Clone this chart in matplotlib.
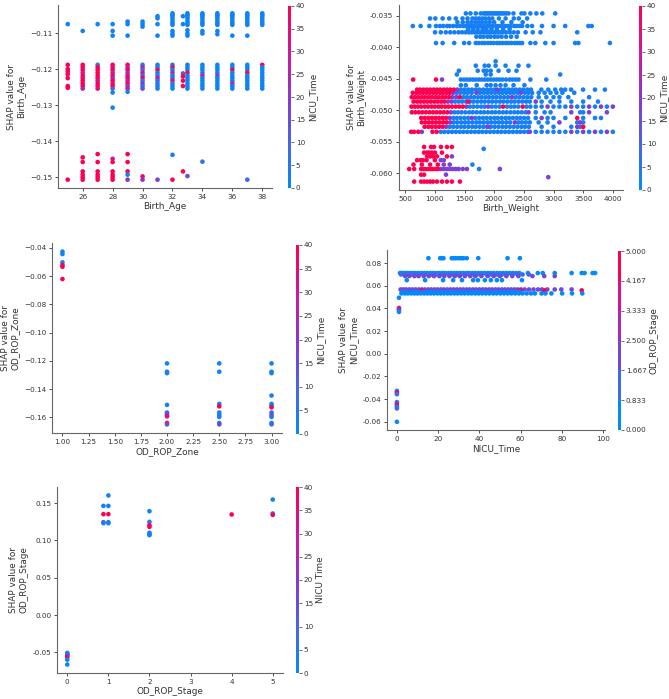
import numpy as np
import matplotlib
matplotlib.use("Agg")
import matplotlib.pyplot as plt
from matplotlib.colors import LinearSegmentedColormap, BoundaryNorm, Normalize

TEXT = "#333333"
W, H = 669, 699
DOT = 11

# shap-like red_blue colour map
RED_BLUE = LinearSegmentedColormap.from_list(
    "red_blue",
    [(0.0, "#008bfb"), (0.25, "#4a63e8"), (0.5, "#8b36cf"), (0.75, "#d4159b"), (1.0, "#ff0051")],
)

# ---------------- panel 1: Birth_Age (colour = NICU_Time) ----------------
age_cols = [25, 26, 27, 28, 29, 30, 31, 32, 32.7, 33, 34, 35, 36, 37, 38]
age_stack = [-0.1045, -0.1049, -0.1053, -0.1059, -0.1066, -0.1072, -0.1077]
age_band = [-0.1188, -0.1195, -0.1202, -0.1210, -0.1218, -0.1225, -0.1232, -0.1240, -0.1247, -0.1254]
age_upper = [
    [-0.1075],
    [-0.1094],
    [-0.1075],
    [-0.1075, -0.1094, -0.1107],
    [-0.1068, -0.1075, -0.1107],
    [-0.1068, -0.1075, -0.1082],
    [-0.1053, -0.1059, -0.1075, -0.1107],
    age_stack + [-0.1094, -0.1101, -0.1107],
    [-0.1053, -0.1075],
    age_stack + [-0.1092, -0.1101, -0.1107],
    age_stack + [-0.1094, -0.1101],
    age_stack + [-0.1094, -0.1103],
    age_stack + [-0.1107],
    age_stack + [-0.1107],
    age_stack,
]
age_mid = [
    [-0.1188, -0.1200, -0.1207, -0.1214, -0.1225, -0.1247, -0.1252],
    age_band, age_band, age_band + [-0.1265], age_band + [-0.1263],
    age_band, age_band, age_band,
    [-0.1212, -0.1220, -0.1232, -0.1247],
    age_band, age_band, age_band, age_band, age_band, age_band,
]
age_mid_c = [
    [40, 40, 40, 38, 40, 40, 40],
    [40, 38, 40, 30, 40, 35, 40, 38, 40, 25],
    [8, 40, 40, 38, 40, 40, 32, 40, 38, 35],
    [40, 35, 40, 28, 40, 22, 40, 35, 40, 12, 3],
    [38, 30, 40, 20, 35, 40, 25, 40, 18, 30, 3],
    [5, 25, 8, 30, 12, 40, 3, 20, 6, 15],
    [3, 2, 40, 5, 2, 30, 3, 10, 2, 4],
    [2, 40, 3, 25, 2, 5, 35, 2, 3, 1],
    [12, 40, 40, 40],
    [2, 3, 1, 40, 2, 2, 4, 2, 1, 2],
    [2, 1, 3, 2, 30, 2, 1, 2, 3, 2],
    [1, 2, 2, 3, 20, 1, 2, 2, 1, 2],
    [2, 1, 40, 2, 3, 1, 2, 25, 2, 1],
    [1, 2, 2, 40, 1, 2, 2, 1, 3, 2],
    [40, 2, 1, 2, 3, 1, 2, 2, 1, 2],
]
age_low = [
    [-0.1507],
    [-0.1445, -0.1458, -0.1484, -0.1493, -0.1500, -0.1507],
    [-0.1436, -0.1458, -0.1484, -0.1493, -0.1500, -0.1507],
    [-0.1307, -0.1449, -0.1458, -0.1484, -0.1493, -0.1500, -0.1507],
    [-0.1436, -0.1458, -0.1484, -0.1493, -0.1507],
    [-0.1498, -0.1507],
    [-0.1507],
    [-0.1438, -0.1507],
    [-0.1484],
    [-0.1497],
    [-0.1457],
    [], [],
    [-0.1507],
    [],
]
age_low_c = [
    [40], [40, 40, 40, 40, 40, 40], [40, 40, 40, 40, 40, 40],
    [2, 30, 40, 40, 40, 40, 40], [40, 40, 40, 3, 20], [40, 20], [18],
    [3, 40], [40], [15], [6], [], [], [8], [],
]

# ---------------- panel 2: Birth_Weight (colour = NICU_Time) ----------------
bw_y = [
    -0.0346, -0.0354, -0.0360, -0.0366, -0.0371, -0.0376, -0.0383, -0.0393,
    -0.0422, -0.0429, -0.0437, -0.0443, -0.0451, -0.0460,
    -0.0467, -0.0472, -0.0479, -0.0486, -0.0494, -0.0503, -0.0512, -0.0519, -0.0526, -0.0534,
    -0.0558, -0.0561, -0.0567, -0.0573, -0.0579, -0.0586, -0.0593, -0.0602, -0.0606, -0.0613,
]
bw_short_nicu = [  # blue points, short NICU stay
    [1522, 1600, 1690, 1773, 1823, 1850, 1880, 1905, 1935, 1960, 1990, 2020, 2050, 2075, 2105,
     2135, 2165, 2200, 2242, 2325, 2460, 2510, 2610, 2711, 2811, 3029],
    [919, 1008, 1131, 1242, 1354, 1466, 1550, 1634, 1690, 1745, 1800, 1850, 1910, 1969, 2080,
     2192, 2331, 2415, 2555],
    [1380, 1470, 1550, 1615, 1680, 1740, 1795, 1860, 1925, 2000, 2140, 2290, 2480],
    [628, 760, 907, 1019, 1085, 1140, 1205, 1250, 1310, 1370, 1425, 1480, 1530, 1585, 1630, 1680,
     1735, 1780, 1830, 1885, 1930, 1980, 2035, 2080, 2130, 2185, 2230, 2280, 2335, 2380, 2430,
     2471, 2560, 2638, 2806, 3001, 3197, 3588, 3644],
    [1560, 1640, 1720, 1805, 1870, 1955, 2045, 2150, 2260],
    [1003, 1100, 1185, 1260, 1330, 1400, 1460, 1520, 1575, 1620, 1665, 1700, 1745, 1780, 1825,
     1860, 1905, 1940, 1985, 2020, 2065, 2100, 2145, 2200, 2265, 2330, 2400, 2530, 2650, 2780, 3400],
    [1700, 1765, 1820, 1885, 1940, 2005, 2060, 2125, 2200, 2285, 2380],
    [1019, 1131, 1326, 1494, 1578, 1690, 1740, 1795, 1840, 1895, 1940, 1990, 2045, 2090, 2140,
     2195, 2240, 2290, 2345, 2390, 2430, 2471, 2611, 2694, 2862, 3001, 3364, 3420, 3951],
    [2024],
    [1690, 1840, 1907, 2024, 2192, 2410, 2577],
    [1405, 1723, 1823, 1874, 1941, 2074, 2242, 2376],
    [1371, 1857, 1941, 3113],
    [1438, 1490, 1540, 1590, 1640, 1690, 1740, 1790, 1840, 1890, 1940, 1990, 2040, 2090, 2140,
     2200, 2260, 2310, 2359, 2410, 2610, 2878],
    [1438, 1522, 1706, 1874, 1941, 2024, 2107, 2192, 2326, 2510],
    [1440, 1500, 1565, 1625, 1690, 1750, 1815, 1880, 1940, 2000, 2110, 2175, 2240, 2300, 2365,
     2430, 2490, 2560, 2620, 2795, 2912, 3029, 3130, 3197, 3297, 3498, 3699, 3866],
    [1370, 1430, 1495, 1555, 1620, 1760, 1825, 1890, 1950, 2015, 2080, 2140, 2205, 2270, 2330,
     2395, 2520, 2580, 2640, 2750, 2850, 2950, 3050, 3150, 3350],
    [1480, 1540, 1605, 1665, 1730, 1790, 1855, 1915, 1980, 2040, 2105, 2170, 2235, 2365, 2430,
     2495, 2560, 2625, 2750, 2880, 3000, 3100, 3250, 3600],
    [1340, 1400, 1460, 1525, 1590, 1650, 1715, 1780, 1840, 1905, 1965, 2030, 2095, 2155, 2220,
     2285, 2345, 2410, 2475, 2540, 2600, 2800, 2950, 3100, 3300, 3500, 3750],
    [1590, 1650, 1715, 1780, 1840, 1960, 2025, 2090, 2215, 2280, 2340, 2405, 2545, 2610, 2700,
     2800, 3000, 3100, 3200, 3400, 3500, 3700, 3900],
    [1330, 1390, 1450, 1515, 1580, 1640, 1705, 1770, 1830, 1895, 1960, 2020, 2085, 2150, 2210,
     2275, 2340, 2400, 2465, 2530, 2700, 2850, 2950, 3450, 3500],
    [1310, 1370, 1430, 1495, 1560, 1680, 1745, 1810, 1870, 1935, 2000, 2060, 2125, 2190, 2250,
     2315, 2380, 2440, 2505, 2570, 2700, 2900, 3000, 3200, 3500, 3700, 3800],
    [1320, 1380, 1445, 1510, 1570, 1635, 1700, 1760, 1825, 1890, 1950, 2015, 2080, 2140, 2205,
     2270, 2410, 2470, 2535, 2600, 2750, 2900, 3400, 3500],
    [1250, 1310, 1375, 1440, 1500, 1565, 1630, 1690, 1755, 1820, 1880, 1945, 2010, 2075, 2140,
     2200, 2265, 2330, 2395, 2460, 2520, 2585, 2800, 3000, 3300, 3450],
    [1100, 1160, 1225, 1290, 1355, 1420, 1480, 1545, 1610, 1675, 1740, 1800, 1865, 1930, 1995,
     2060, 2120, 2185, 2250, 2315, 2380, 2440, 2505, 2570, 2700, 2800, 2900, 3000, 3100, 3200,
     3400, 3600, 3800, 4000],
    [], [1823], [], [], [], [1633], [1745], [], [], [],
]
bw_mid_nicu = [  # purple points
    [], [], [], [], [], [], [], [],
    [], [], [], [], [1120], [],
    [1380, 2050], [1310, 1700, 2450], [1295, 1360, 2300], [1220, 1280, 2700],
    [1530, 1900, 2900, 3300, 3600, 3800, 4000], [1270, 2580, 3300, 3600, 3900],
    [1250, 1620, 2800], [1260, 2350, 3100, 3450], [1190, 1900, 3400], [780, 2600, 3300, 3500, 3700, 3900],
    [], [], [], [1287], [1100, 1150], [1150, 1250],
    [1100, 1150, 1200, 1250, 1300, 1350, 1400, 1470, 1540, 2096], [1187], [2912], [],
]
bw_long_nicu = [  # red points, long NICU stay
    [], [], [], [], [], [], [], [],
    [], [], [], [], [634, 1019], [],
    [701, 750, 810, 865, 920, 980, 1035, 1090, 1150, 1205, 1260, 1320],
    [628, 690, 745, 800, 860, 915, 975, 1030, 1090, 1140, 1200, 1255],
    [610, 665, 720, 780, 835, 895, 950, 1010, 1065, 1125, 1180, 1240, 1420],
    [640, 700, 755, 815, 870, 930, 990, 1045, 1105, 1160, 1560],
    [606, 660, 715, 770, 830, 885, 945, 1000, 1060, 1115, 1175, 1230, 1290, 1350, 1410, 1470, 2150, 2480],
    [611, 670, 730, 790, 850, 910, 970, 1030, 1090, 1150, 1210],
    [770, 830, 890, 950, 1010, 1070, 1130, 1190, 3400],
    [780, 840, 900, 960, 1020, 1080, 1140, 1200],
    [827, 890, 950, 1010, 1070, 1130, 3500],
    [600, 650, 720, 960, 1030],
    [818, 935, 985, 1103, 1204, 1287], [],
    [818, 870, 901, 951, 1002, 1120],
    [868, 918, 968, 1036, 1204],
    [700, 760, 800, 860, 1000],
    [640, 780, 920, 1050],
    [567, 651, 768, 810, 850, 890, 930, 970, 1010, 1050],
    [768, 818], [],
    [651, 768, 818, 868, 918, 968, 1036, 1120, 1204, 1287, 1422],
]
bw_group_nicu = [3, 18, 40]

# ---------------- panel 3: OD_ROP_Zone (colour = NICU_Time) ----------------
zone_x = [1.0] * 6 + [2.0] * 10 + [2.5] * 9 + [3.0] * 12
zone_y = [
    -0.0426, -0.0443, -0.0502, -0.0521, -0.0533, -0.0620,
    -0.1218, -0.1277, -0.1287, -0.1512, -0.1566, -0.1574, -0.1583, -0.1593, -0.1640, -0.1650,
    -0.1218, -0.1277, -0.1505, -0.1522, -0.1566, -0.1583, -0.1597, -0.1640, -0.1650,
    -0.1218, -0.1277, -0.1287, -0.1446, -0.1505, -0.1518, -0.1529, -0.1566, -0.1583, -0.1597,
    -0.1640, -0.1650,
]
zone_c = [
    2, 2, 3, 36, 40, 40,
    2, 2, 3, 3, 4, 8, 20, 35, 40, 15,
    2, 2, 3, 40, 3, 4, 3, 3, 15,
    2, 2, 3, 2, 2, 3, 40, 2, 18, 5, 3, 8,
]

# ---------------- panel 4: NICU_Time (colour = OD_ROP_Stage) ----------------
nicu_rows_y = [0.0844, 0.0713, 0.0700, 0.0686, 0.0650, 0.0568, 0.0560, 0.0548, 0.0533]
nicu_rows_stage = [0, 0, 1, 2, 0, 2, 5, 1, 0]
nicu_rows_x = [
    [15.3, 21.0, 21.8, 22.6, 26.6, 27.5, 28.2, 29.5, 30.6, 31.5, 32.3, 33.9, 39.5, 53.7, 59.7],
    [1.5, 2.2, 3.0, 4.1, 5.2, 6.5, 7.8, 9.1, 10.5, 12.0, 13.4, 14.8, 16.3, 17.7, 19.2, 20.6, 22.1,
     23.5, 25.0, 26.4, 27.9, 29.3, 30.8, 32.2, 33.7, 35.1, 36.6, 38.0, 39.5, 41.0, 42.5, 44.1,
     45.5, 47.0, 48.6, 50.1, 51.7, 53.2, 54.8, 56.3, 57.9, 59.4, 63.6, 68.4, 70.8, 76.6, 84.8,
     89.7, 91.1, 95.0, 96.2],
    [2.0, 3.5, 5.0, 7.0, 9.1, 11.0, 13.2, 15.0, 17.1, 19.0, 21.2, 23.0, 25.1, 27.0, 29.2, 31.0,
     33.1, 35.0, 37.2, 39.0, 41.1, 43.5, 46.0, 48.4, 51.0, 53.5, 56.1, 58.5, 61.0, 64.0],
    [4.0, 6.0, 8.5, 10.5, 13.0, 15.5, 18.0, 20.6, 23.0, 25.5, 28.1, 30.5, 33.0, 35.6, 38.0, 41.0,
     44.1, 47.0, 50.0, 53.1, 56.0, 59.0, 65.8, 71.5, 76.6],
    [4.8, 13.7, 22.4, 27.3, 31.6, 37.0, 39.3, 42.7, 45.6, 48.5, 51.0, 60.7],
    [1.8, 3.2, 4.5, 6.0, 7.5, 9.0, 10.6, 12.1, 13.6, 15.2, 16.7, 18.3, 19.8, 21.4, 22.9, 24.5,
     26.0, 27.6, 29.1, 30.7, 32.2, 33.8, 35.3, 36.9, 38.4, 40.0, 41.6, 43.1, 44.7, 46.2, 47.8,
     49.3, 50.9, 52.4, 54.0, 55.5, 57.1, 58.6, 60.2, 62.0, 64.1, 66.3, 68.5, 70.4, 73.0, 76.6,
     79.8, 84.8],
    [12.0, 59.7, 71.7, 89.7],
    [2.5, 4.0, 5.6, 7.2, 8.8, 10.4, 12.6, 14.3, 16.0, 17.6, 19.3, 21.0, 22.6, 24.3, 26.0, 27.7,
     29.4, 31.1, 32.8, 34.5, 36.2, 38.0, 39.7, 41.5, 43.2, 45.0, 46.8, 48.6, 50.4, 52.2, 54.0,
     55.8, 57.7, 59.5],
    [2.2, 3.8, 5.3, 6.9, 8.5, 10.0, 11.6, 13.2, 14.8, 16.4, 18.0, 19.7, 21.3, 22.9, 24.6, 26.2,
     27.9, 29.5, 31.2, 32.9, 34.6, 36.3, 38.0, 39.7, 41.4, 43.2, 44.9, 46.7, 48.4, 50.2, 52.0,
     53.8, 55.6, 57.4, 59.2, 61.0, 63.0, 65.1, 67.0, 70.2, 72.1, 75.0, 80.2, 85.0, 90.0],
]
nicu_early_x = [1, 1, 1, 1, 1, 0, 0, 0, 0, 0, 0, 0, 0, 0]
nicu_early_y = [0.0495, 0.0405, 0.0395, 0.0385, 0.0370,
                -0.0327, -0.0341, -0.0356, -0.0426, -0.0440, -0.0454, -0.0468, -0.0482, -0.0600]
nicu_early_stage = [0, 3, 5, 2, 0, 0, 5, 1, 0, 3, 5, 0, 1, 0]
stage_ticks = [0.000, 0.833, 1.667, 2.500, 3.333, 4.167, 5.000]

# ---------------- panel 5: OD_ROP_Stage (colour = NICU_Time) ----------------
stage_x = [0] * 7 + [0.88] * 4 + [1] * 5 + [2] * 7 + [4] + [5] * 3
stage_y = [
    -0.0508, -0.0522, -0.0531, -0.0544, -0.0562, -0.0598, -0.0664,
    0.1464, 0.1353, 0.1245, 0.1232,
    0.1604, 0.1464, 0.1353, 0.1245, 0.1232,
    0.1393, 0.1250, 0.1206, 0.1183, 0.1103, 0.1086, 0.1072,
    0.1349,
    0.1549, 0.1362, 0.1344,
]
stage_c = [
    3, 8, 2, 12, 38, 2, 1,
    2, 40, 15, 3,
    2, 2, 38, 3, 2,
    2, 3, 36, 40, 3, 2, 3,
    40,
    2, 3, 40,
]


def px_box(left, top, right, bottom):
    return [left / W, 1 - bottom / H, (right - left) / W, (bottom - top) / H]


def style_axis(ax, xlabel, feature):
    ax.spines["top"].set_visible(False)
    ax.spines["right"].set_visible(False)
    for side in ["left", "bottom"]:
        ax.spines[side].set_color("#666666")
        ax.spines[side].set_linewidth(0.8)
    ax.tick_params(labelsize=5.2, colors=TEXT, length=2.5, width=0.6, pad=1.5)
    ax.set_xlabel(xlabel, fontsize=6.4, color=TEXT, labelpad=2)
    ax.set_ylabel(f"SHAP value for\n{feature}", fontsize=6.4, color=TEXT, labelpad=3)


def add_colorbar(fig, sc, box, label, ticks, fmt=None):
    cax = fig.add_axes(px_box(*box))
    cb = fig.colorbar(sc, cax=cax, ticks=ticks, format=fmt)
    cb.outline.set_visible(False)
    cax.tick_params(labelsize=5.2, colors=TEXT, length=2, width=0.5, pad=1.5)
    cb.set_label(label, fontsize=6.4, color=TEXT, labelpad=2)
    return cb


fig = plt.figure(figsize=(W / 100, H / 100), dpi=100)
nicu_norm = Normalize(0, 40)
nicu_ticks = [0, 5, 10, 15, 20, 25, 30, 35, 40]

# panel 1
ax1 = fig.add_axes(px_box(58, 5, 272, 188))
xs, ys, cs = [], [], []
for i, col in enumerate(age_cols):
    for v in age_upper[i]:
        xs.append(col); ys.append(v); cs.append(2)
    for v, c in zip(age_mid[i], age_mid_c[i]):
        xs.append(col); ys.append(v); cs.append(c)
    for v, c in zip(age_low[i], age_low_c[i]):
        xs.append(col); ys.append(v); cs.append(c)
sc1 = ax1.scatter(xs, ys, c=cs, cmap=RED_BLUE, norm=nicu_norm, s=DOT, linewidths=0)
ax1.set_xticks([26, 28, 30, 32, 34, 36, 38])
ax1.set_yticks([-0.15, -0.14, -0.13, -0.12, -0.11])
style_axis(ax1, "Birth_Age", "Birth_Age")
add_colorbar(fig, sc1, (288, 6, 291, 188), "NICU_Time", nicu_ticks)

# panel 2
ax2 = fig.add_axes(px_box(399, 5, 623, 190))
for k, groups in enumerate([bw_short_nicu, bw_mid_nicu, bw_long_nicu]):
    xs, ys = [], []
    for yv, row in zip(bw_y, groups):
        xs.extend(row)
        ys.extend([yv] * len(row))
    sc2 = ax2.scatter(xs, ys, c=[bw_group_nicu[k]] * len(xs), cmap=RED_BLUE, norm=nicu_norm,
                      s=DOT, linewidths=0)
ax2.set_xticks([500, 1000, 1500, 2000, 2500, 3000, 3500, 4000])
ax2.set_yticks([-0.060, -0.055, -0.050, -0.045, -0.040, -0.035])
ax2.yaxis.set_major_formatter(matplotlib.ticker.FormatStrFormatter("%.3f"))
style_axis(ax2, "Birth_Weight", "Birth_Weight")
add_colorbar(fig, sc2, (639, 6, 642, 190), "NICU_Time", nicu_ticks)

# panel 3
ax3 = fig.add_axes(px_box(52, 243, 282, 433))
sc3 = ax3.scatter(zone_x, zone_y, c=zone_c, cmap=RED_BLUE, norm=nicu_norm, s=DOT, linewidths=0)
ax3.set_xticks([1.0, 1.25, 1.5, 1.75, 2.0, 2.25, 2.5, 2.75, 3.0])
ax3.xaxis.set_major_formatter(matplotlib.ticker.FormatStrFormatter("%.2f"))
ax3.set_yticks([-0.16, -0.14, -0.12, -0.10, -0.08, -0.06, -0.04])
style_axis(ax3, "OD_ROP_Zone", "OD_ROP_Zone")
add_colorbar(fig, sc3, (296, 245, 299, 434), "NICU_Time", nicu_ticks)

# panel 4
ax4 = fig.add_axes(px_box(387, 250, 605, 430))
stage_cmap = RED_BLUE.resampled(6)
stage_norm = BoundaryNorm(stage_ticks, 6)
xs, ys, cs = [], [], []
for yv, row, st in zip(nicu_rows_y, nicu_rows_x, nicu_rows_stage):
    xs.extend(row)
    ys.extend([yv] * len(row))
    cs.extend([st] * len(row))
xs += nicu_early_x
ys += nicu_early_y
cs += nicu_early_stage
sc4 = ax4.scatter(xs, ys, c=cs, cmap=stage_cmap, norm=stage_norm, s=DOT, linewidths=0)
ax4.set_xticks([0, 20, 40, 60, 80, 100])
ax4.set_yticks([-0.06, -0.04, -0.02, 0.00, 0.02, 0.04, 0.06, 0.08])
ax4.yaxis.set_major_formatter(matplotlib.ticker.FormatStrFormatter("%.2f"))
style_axis(ax4, "NICU_Time", "NICU_Time")
add_colorbar(fig, sc4, (618, 251, 621, 430), "OD_ROP_Stage", stage_ticks, fmt="%.3f")

# panel 5
ax5 = fig.add_axes(px_box(57, 487, 283, 673))
sc5 = ax5.scatter(stage_x, stage_y, c=stage_c, cmap=RED_BLUE, norm=nicu_norm, s=DOT, linewidths=0)
ax5.set_xticks([0, 1, 2, 3, 4, 5])
ax5.set_yticks([-0.05, 0.00, 0.05, 0.10, 0.15])
ax5.yaxis.set_major_formatter(matplotlib.ticker.FormatStrFormatter("%.2f"))
style_axis(ax5, "OD_ROP_Stage", "OD_ROP_Stage")
add_colorbar(fig, sc5, (296, 487, 299, 673), "NICU Time", nicu_ticks)

fig.savefig("out.png", dpi=100, facecolor="white")
